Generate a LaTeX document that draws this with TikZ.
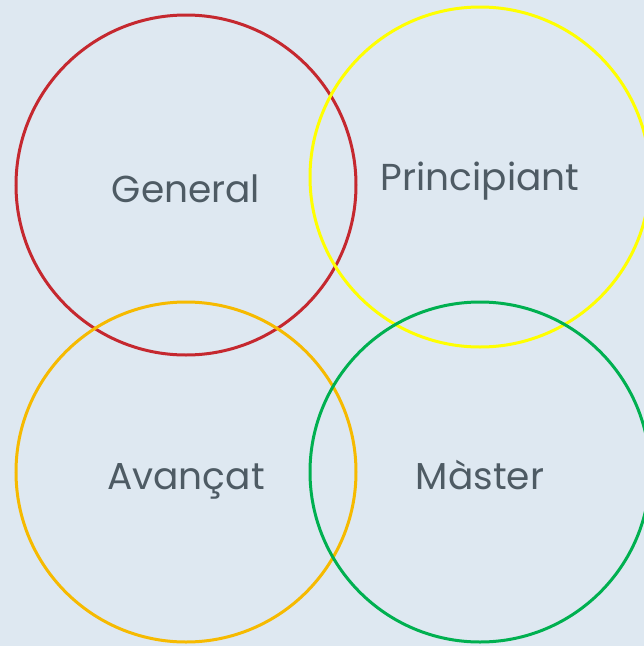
\documentclass[tikz,border=0pt]{standalone}
\usepackage{fontspec}
\setmainfont{Poppins}
\usepackage{tikz}
\definecolor{bg}{HTML}{DEE8F1}
\definecolor{txt}{HTML}{4E5B64}
\definecolor{cred}{HTML}{C5282F}
\definecolor{cyellow}{HTML}{FFFF00}
\definecolor{corange}{HTML}{F6BA00}
\definecolor{cgreen}{HTML}{00B050}

\begin{document}
\begin{tikzpicture}[x=1pt,y=-1pt,
  ring/.style={circle, draw, line width=3pt, minimum size=340pt, inner sep=0pt},
  lbl/.style={text=txt, inner sep=0pt, text height=26pt, text depth=0pt,
    font=\fontsize{37.5}{40}\selectfont}]
  \fill[bg] (0,0) rectangle (644,646);
  \useasboundingbox (0,0) rectangle (644,646);
  \clip (0,0) rectangle (644,646);
  \node (gen) [ring, draw=cred,    label={[lbl, yshift=-4pt]center:General}]     at (186,185) {};
  \node (pri) [ring, draw=cyellow, label={[lbl, yshift=0pt]center:Principiant}] at (480,177) {};
  \node (ava) [ring, draw=corange, label={[lbl, yshift=-4pt]center:Avançat}]     at (186,472) {};
  \node (mas) [ring, draw=cgreen,  label={[lbl, yshift=-4.5pt]center:Màster}]     at (480,472) {};
\end{tikzpicture}
\end{document}
